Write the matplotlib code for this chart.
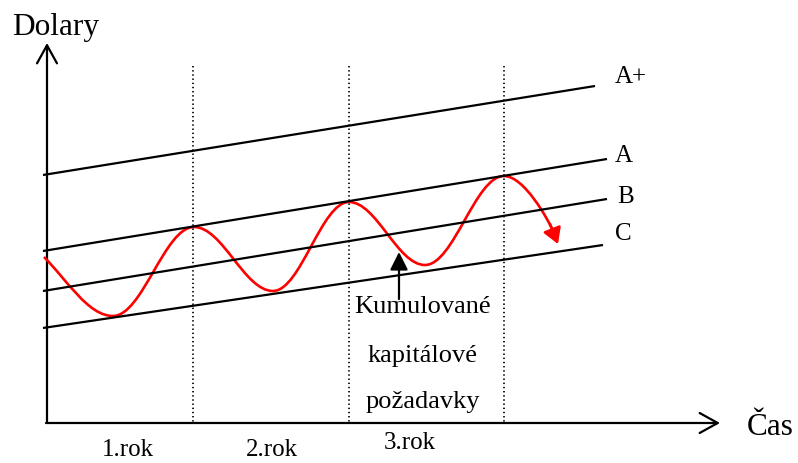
import matplotlib
matplotlib.use("Agg")
import matplotlib.pyplot as plt
from matplotlib.path import Path
from matplotlib.patches import PathPatch, FancyArrowPatch

plt.rcParams["font.family"] = ["Liberation Serif", "DejaVu Serif"]

# Drawing is done in pixel-like units (x to the right, y downwards)
line_names = ["A+", "A", "B", "C"]
line_x0 = [43, 43, 43, 43]
line_y0 = [175, 251, 291, 328]
line_x1 = [595, 607, 607, 603]
line_y1 = [86, 159, 199, 245]
label_x = [615, 615, 617, 615]
label_y = [83, 162, 203, 240]

# red cumulative capital requirement curve: start point and extremes
wave_x = [44, 113, 194, 273, 349, 425, 504]
wave_y = [257, 316, 227, 291, 202, 265, 176]
wave_end = (554, 233)
wave_tip = (558, 244)

# year boundaries and labels
year_x = [193, 349, 504]
year_labels = ["1.rok", "2.rok", "3.rok"]
year_label_x = [128, 272, 410]
year_label_y = [456, 456, 449]

fig = plt.figure(figsize=(7.98, 4.63), dpi=100)
ax = fig.add_axes([0, 0, 1, 1])
ax.set_xlim(0, 798)
ax.set_ylim(463, 0)
ax.axis("off")

# axes with open arrow heads
ax.add_patch(FancyArrowPatch((47, 423), (47, 43), arrowstyle="->,head_length=13,head_width=7.2",
                             lw=1.6, color="black", shrinkA=0, shrinkB=0))
ax.add_patch(FancyArrowPatch((46, 423), (720, 423), arrowstyle="->,head_length=13,head_width=7.2",
                             lw=1.6, color="black", shrinkA=0, shrinkB=0))

# dotted year boundaries
ax.vlines(year_x, 66, 423, colors="black", linestyles=(0, (0.8, 1.6)), lw=1.25)

# straight lines A+, A, B, C
for name, x0, y0, x1, y1, lx, ly in zip(line_names, line_x0, line_y0, line_x1, line_y1, label_x, label_y):
    ax.plot([x0, x1], [y0, y1], color="black", lw=1.6, solid_capstyle="butt")
    ax.text(lx, ly, name, fontsize=18, ha="left", va="baseline")

# red wave as bezier segments
verts = [(wave_x[0], wave_y[0])]
codes = [Path.MOVETO]
dx = wave_x[1] - wave_x[0]
verts += [(wave_x[0] + 0.33 * dx, wave_y[0] + 0.33 * dx * 1.0),
          (wave_x[1] - 0.36 * dx, wave_y[1]),
          (wave_x[1], wave_y[1])]
codes += [Path.CURVE4] * 3
k = 0.3642
for i in range(1, len(wave_x) - 1):
    dx = wave_x[i + 1] - wave_x[i]
    verts += [(wave_x[i] + k * dx, wave_y[i]),
              (wave_x[i + 1] - k * dx, wave_y[i + 1]),
              (wave_x[i + 1], wave_y[i + 1])]
    codes += [Path.CURVE4] * 3
verts += [(wave_x[-1] + 20, wave_y[-1]),
          (wave_end[0] - 6, wave_end[1] - 14),
          wave_end]
codes += [Path.CURVE4] * 3
ax.add_patch(PathPatch(Path(verts, codes), facecolor="none", edgecolor="red", lw=1.9))
ax.add_patch(FancyArrowPatch((wave_end[0] - 4, wave_end[1] - 9), wave_tip,
                             arrowstyle="-|>,head_length=9.4,head_width=5.6",
                             color="red", lw=1.9, shrinkA=0, shrinkB=0))

# annotation arrow and text
ax.add_patch(FancyArrowPatch((399, 299), (399, 252), arrowstyle="-|>,head_length=10.8,head_width=5.4",
                             color="black", lw=1.6, shrinkA=0, shrinkB=0))
for txt, y in zip(["Kumulované", "kapitálové", "požadavky"], [313, 362, 408]):
    ax.text(423, y, txt, fontsize=19, ha="center", va="baseline")

# axis titles
ax.text(12, 35, "Dolary", fontsize=22.5, ha="left", va="baseline")
ax.text(747, 435, "Čas", fontsize=22.5, ha="left", va="baseline")

for lab, x, y in zip(year_labels, year_label_x, year_label_y):
    ax.text(x, y, lab, fontsize=18, ha="center", va="baseline")

fig.savefig("out.png", dpi=100)
plt.close(fig)
